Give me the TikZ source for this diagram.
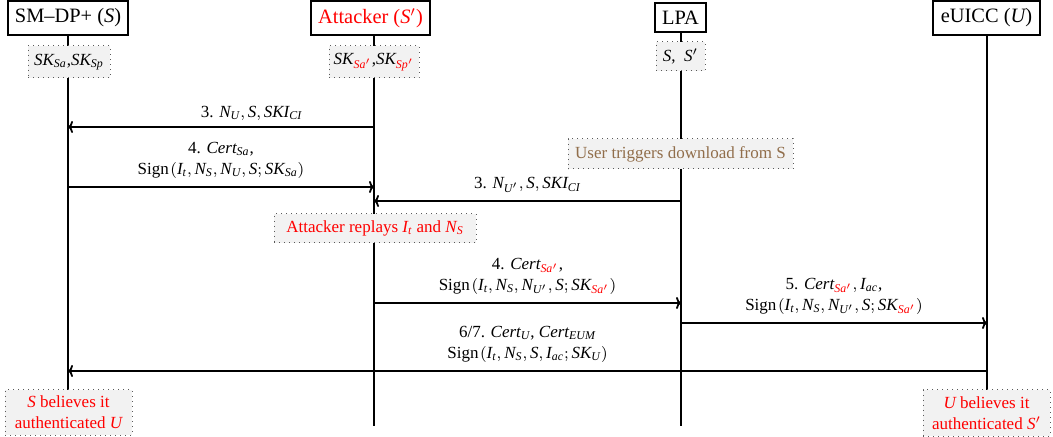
\documentclass[tikz,border=0pt]{standalone}
\usepackage{mathspec}
\setmainfont{Liberation Serif}
\setmathsfont(Digits,Latin){Liberation Serif}
\usetikzlibrary{arrows.meta}
\definecolor{brn}{RGB}{145,110,75}
\newcommand{\sgn}{Sign\kern0.8pt}
\begin{document}
\begin{tikzpicture}[x=0.5pt,y=-0.5pt,
  actor/.style={draw, line width=0.6pt, fill=white, inner sep=0pt, font=\fontsize{10.2}{12}\selectfont},
  note/.style={draw=black!65, dotted, line width=0.5pt, fill=black!5, inner sep=0pt, align=center, font=\fontsize{8.5}{10.5}\selectfont},
  life/.style={line width=0.9pt},
  msg/.style={line width=0.9pt, -{To[length=2.5pt,width=6pt]}},
  lbl/.style={align=center, font=\fontsize{8.5}{10.5}\selectfont, inner sep=0pt},
]
\useasboundingbox (0,0) rectangle (1053,437);
% lifeline x positions and message heights
\coordinate (xs) at (68,0);
\coordinate (xa) at (374,0);
\coordinate (xl) at (681,0);
\coordinate (xu) at (987,0);
\coordinate (bot) at (0,426);
\coordinate (m1) at (0,127);
\coordinate (m2) at (0,187);
\coordinate (m3) at (0,201);
\coordinate (m4) at (0,303);
\coordinate (m5) at (0,323);
\coordinate (m6) at (0,371);
% actors
\node[actor, minimum width=60pt, minimum height=17pt] (smdp) at (68,18) {SM--DP+ ($S$)};
\node[actor, minimum width=59.5pt, minimum height=17pt, text=red] (att) at (370.5,18) {Attacker ($S'$)};
\node[actor, minimum width=25.5pt, minimum height=14.5pt] (lpa) at (680.5,17.5) {LPA};
\node[actor, minimum width=53.5pt, minimum height=17pt] (euicc) at (986.5,18) {eUICC ($U$)};
% lifelines
\draw[life] (smdp.south -| xs) -- (xs |- bot);
\draw[life] (att.south -| xa) -- (xa |- bot);
\draw[life] (lpa.south -| xl) -- (xl |- bot);
\draw[life] (euicc.south -| xu) -- (xu |- bot);
% notes
\node[note, minimum width=41pt, minimum height=16pt] (skS) at (69,62) {$SK_{Sa}$,$SK_{Sp}$};
\node[note, minimum width=45pt, minimum height=16pt] (skA) at (374,62) {$SK_{\color{red}Sa'}$,$SK_{\color{red}Sp'}$};
\node[note, minimum width=24.5pt, minimum height=14.5pt] (lpaN) at (680.5,56.5) {$S$,\ \ $S'$};
\node[note, minimum width=112.5pt, minimum height=15pt, text=brn] (trig) at (680.5,154) {User triggers download from S};
\node[note, minimum width=101pt, minimum height=14.5pt, text=red] (repl) at (375,228.5) {Attacker replays $I_t$ and $N_S$};
\node[note, minimum width=63.5pt, minimum height=22.5pt, text=red] (belS) at (68.5,412.5) {$S$ believes it\\authenticated $U$};
\node[note, minimum width=63.5pt, minimum height=23pt, text=red] (belU) at (986.5,413) {$U$ believes it\\authenticated $S'$};
% messages
\draw[msg] (xa |- m1) -- node[lbl, pos=0.4, yshift=7pt] {3. $N_U, S, SKI_{CI}$} (xs |- m1);
\draw[msg] (xs |- m2) -- node[lbl, midway, yshift=13.25pt] {4. $Cert_{Sa}$,\\ \sgn$(I_t, N_S, N_U, S; SK_{Sa})$} (xa |- m2);
\draw[msg] (xl |- m3) -- node[lbl, midway, yshift=8pt] {3. $N_{U'}, S, SKI_{CI}$} (xa |- m3);
\draw[msg] (xa |- m4) -- node[lbl, midway, yshift=13.5pt] {4. $Cert_{\color{red}Sa'}$,\\ \sgn$(I_t, N_S, N_{U'}, S; SK_{\color{red}Sa'})$} (xl |- m4);
\draw[msg] (xl |- m5) -- node[lbl, midway, yshift=13.5pt] {5. $Cert_{\color{red}Sa'}, I_{ac}$,\\ \sgn$(I_t, N_S, N_{U'}, S; SK_{\color{red}Sa'})$} (xu |- m5);
\draw[msg] (xu |- m6) -- node[lbl, midway, yshift=13.5pt] {6/7. $Cert_U$, $Cert_{EUM}$\\ \sgn$(I_t, N_S, S, I_{ac}; SK_U)$} (xs |- m6);
\end{tikzpicture}
\end{document}
